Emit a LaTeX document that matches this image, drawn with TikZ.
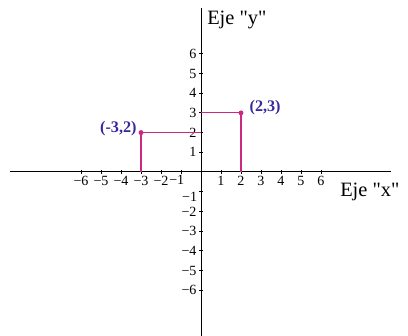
\documentclass[tikz,border=0pt]{standalone}
\usepackage{fontspec}
\setmainfont{Liberation Serif}
\newfontfamily\plainserif{Liberation Serif}
\usetikzlibrary{positioning}
\definecolor{pointline}{RGB}{204,40,130}
\definecolor{pointtext}{RGB}{55,40,160}

\begin{document}
\begin{tikzpicture}[
    x=0.5cm, y=0.4925cm,
    axis/.style={draw=black, line width=0.7pt},
    tickmark/.style={draw=black, line width=0.6pt},
    ticklabel/.style={font=\fontsize{10}{11}\selectfont, inner sep=1pt},
    axistitle/.style={font=\plainserif\fontsize{14.5}{16}\selectfont, inner sep=0pt},
    guide/.style={draw=pointline, line width=0.8pt},
    dot/.style={circle, fill=pointline, inner sep=0pt, minimum size=3.5pt},
    ptlabel/.style={font=\fontsize{11.5}{13}\selectfont\bfseries, text=pointtext, inner sep=0pt}
]

% Picture frame
\useasboundingbox (-10.05,-8.325) rectangle (10.35,8.73);

% Axis end points
\coordinate (xmin) at (-9.55,0);
\coordinate (xmax) at (9.5,0);
\coordinate (ymin) at (0,-8.325);
\coordinate (ymax) at (0,8.32);

% Axes
\draw[axis] (xmin) -- (xmax);
\draw[axis] (ymin) -- (ymax);

% Ticks and tick labels
\foreach \k in {1,...,6} {
    \draw[tickmark] (\k,-0.08) -- (\k,0.08);
    \draw[tickmark] (-\k,-0.08) -- (-\k,0.08);
    \draw[tickmark] (-0.08,\k) -- (0.08,\k);
    \draw[tickmark] (-0.08,-\k) -- (0.08,-\k);
    \node[ticklabel, below=2pt] (xl\k) at (\k,0) {\k};
    \node[ticklabel, left=2pt] (yl\k) at (0,\k) {\k};
}
\foreach \k in {2,...,6} {
    \node[ticklabel, below=2pt] (xln\k) at (-\k,0) {−\k};
    \node[ticklabel, left=2pt] (yln\k) at (0,-\k) {−\k};
}
% the two -1 labels sit close to the origin
\node[ticklabel, below=1pt, xshift=-3pt] (xln1) at (-1,0) {−1};
\node[ticklabel, left=1.5pt, yshift=-4pt] (yln1) at (0,-1) {−1};

% Axis titles
\node[axistitle, anchor=west] (ytitle) at (0.3,7.7) {Eje "y"};
\node[axistitle, anchor=west] (xtitle) at (6.95,-1.0) {Eje "x"};

% Points
\node[dot] (pa) at (-3,2) {};
\node[dot] (pb) at (2,3) {};

% Projections onto the axes
\coordinate (pa-x) at (-3,0);
\coordinate (pa-y) at (0,2);
\coordinate (pb-x) at (2,0);
\coordinate (pb-y) at (0,3);
\draw[guide] (pa-x) -- (pa.center) -- (pa-y);
\draw[guide] (pb-x) -- (pb.center) -- (pb-y);

% Point labels
\node[ptlabel, left=1pt of pa, yshift=3pt] (pa-label) {(-3,2)};
\node[ptlabel, right=4pt of pb, yshift=3.5pt] (pb-label) {(2,3)};

\end{tikzpicture}
\end{document}
